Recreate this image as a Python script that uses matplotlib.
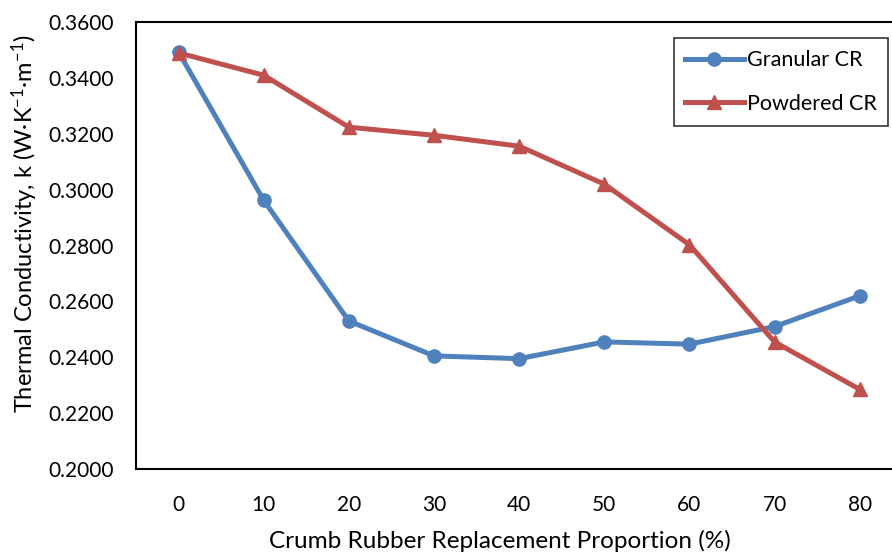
import numpy as np
import matplotlib.pyplot as plt

# data
proportion = ['0', '10', '20', '30', '40', '50', '60', '70', '80']
granular = [0.3493, 0.2962, 0.2530, 0.2405, 0.2395, 0.2455, 0.2447, 0.2510, 0.2620]
powdered = [0.3490, 0.3410, 0.3224, 0.3195, 0.3156, 0.3020, 0.2803, 0.2455, 0.2285]

plt.rcParams['font.family'] = ['Lato', 'DejaVu Sans']
plt.rcParams['mathtext.default'] = 'regular'

fig = plt.figure(figsize=(8.92, 5.55), dpi=100)
ax = fig.add_axes([0.1525, 0.155, 0.859, 0.805])

x = np.arange(len(proportion))
ax.plot(x, granular, color='#4F81BD', lw=3.6, marker='o', ms=9.5, label='Granular CR')
ax.plot(x, powdered, color='#C0504D', lw=3.6, marker='^', ms=10, label='Powdered CR')

ax.set_xlim(-0.5, len(proportion) - 0.5)
ax.set_ylim(0.2, 0.36)
ax.set_yticks(np.arange(0.2, 0.3601, 0.02))
ax.yaxis.set_major_formatter(plt.FuncFormatter(lambda v, p: f'{v:.4f}'))
ax.set_xticks(x)
ax.set_xticklabels(proportion)
ax.tick_params(axis='both', length=0, labelsize=15)
ax.tick_params(axis='x', pad=19)
ax.tick_params(axis='y', pad=16)

for s in ax.spines.values():
    s.set_linewidth(1.5)
ax.spines['right'].set_visible(False)

ax.set_xlabel('Crumb Rubber Replacement Proportion (%)', fontsize=17.5, va='center')
ax.xaxis.set_label_coords(0.475, -0.161)
ax.set_ylabel('Thermal Conductivity, k (W·K$^{-1}$·m$^{-1}$)', fontsize=17, va='center')
ax.yaxis.set_label_coords(-0.145, 0.55)

leg = ax.legend(loc='upper right', bbox_to_anchor=(0.982, 0.964), fontsize=15.5,
                frameon=True, fancybox=False, edgecolor='black',
                handlelength=2.7, handletextpad=0.15, labelspacing=1.1,
                borderpad=0.55, borderaxespad=0)
leg.get_frame().set_linewidth(1.2)

fig.savefig('out.png', dpi=100)
